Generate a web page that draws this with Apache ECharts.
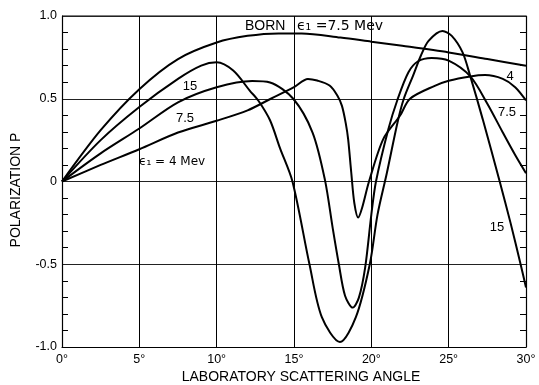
<!DOCTYPE html>
<html><head><meta charset="utf-8">
<script src="https://cdn.jsdelivr.net/npm/echarts@6/dist/echarts.min.js"></script>
<style>html,body{margin:0;padding:0;background:#fff}#c{width:539px;height:385px}</style>
</head><body><div id="c"></div>
<script>
var xTicks = ['0°','5°','10°','15°','20°','25°','30°'];
var born = [[0,0],[2.5,0.31],[5,0.558],[7.5,0.74],[10,0.84],[12,0.88],[14,0.895],[15.5,0.895],[18,0.87],[20,0.845],[22,0.82],[25,0.78],[27.5,0.74],[30,0.70]];
var mev15 = [[0,0],[2.5,0.25],[5,0.45],[7.5,0.62],[9,0.70],[10,0.72],[11.07,0.67],[12.15,0.548],[12.7,0.488],[13.45,0.37],[14.1,0.2],[14.9,0],[16.0,-0.5],[16.8,-0.82],[17.97,-0.97],[19,-0.82],[19.9,-0.5],[20.4,-0.2],[21,0.05],[21.7,0.36],[22.1,0.5],[22.7,0.64],[23.2,0.76],[23.7,0.85],[24.6,0.91],[25.2,0.88],[25.9,0.78],[26.4,0.635],[27.2,0.377],[28.3,0],[29.0,-0.25],[29.65,-0.5],[30,-0.64]];
var mev75 = [[0,0],[2.5,0.17],[5,0.32],[7.5,0.478],[10,0.569],[12.3,0.607],[13.45,0.598],[14.95,0.5],[16.2,0.296],[17.0,0.01],[17.5,-0.28],[17.9,-0.5],[18.3,-0.69],[18.8,-0.762],[19.2,-0.7],[19.6,-0.52],[20.0,-0.2],[20.3,0],[21.1,0.316],[21.7,0.497],[22.4,0.66],[23,0.725],[23.9,0.746],[25,0.73],[26.4,0.635],[27.5,0.47],[28.5,0.296],[29.3,0.16],[30,0.05]];
var mev4 = [[0,0],[2.5,0.1],[5,0.195],[7.5,0.296],[10,0.367],[12,0.43],[13.5,0.5],[15,0.57],[15.9,0.62],[16.5,0.61],[17.3,0.58],[17.8,0.52],[18.1,0.457],[18.35,0.35],[18.5,0.256],[18.7,0.056],[18.9,-0.13],[19.15,-0.218],[19.4,-0.16],[19.85,0],[20.77,0.256],[21.85,0.397],[22.5,0.5],[24.1,0.578],[25,0.609],[26.4,0.635],[27.35,0.643],[28.5,0.62],[29.3,0.57],[30,0.49]];

var FONT = 'Liberation Sans';
var chart = echarts.init(document.getElementById('c'), null, {renderer:'canvas'});
function line(name, data){
  return {name:name, type:'line', data:data, smooth:0.3, symbol:'none',
    lineStyle:{color:'#000', width:2}, yAxisIndex:0};
}
function yax(pos, labels){
  return {type:'value', min:-1, max:1, interval:0.5, position:pos,
    axisLine:{show:true, onZero:false, lineStyle:{color:'#000', width:1.2}},
    axisTick:{show:false, inside:true},
    minorTick:{show:true, splitNumber:5, length:6, lineStyle:{color:'#000', width:1}},
    splitLine:{show:labels, lineStyle:{color:'#222', width:1}},
    axisLabel:{show:labels, color:'#000', fontFamily:FONT, fontSize:12.5, margin:5,
      formatter:function(v){ return v===0 ? '0' : v.toFixed(1); }}
  };
}
chart.setOption({
  animation:false,
  grid:{left:62, right:13, top:16, bottom:38},
  xAxis:{type:'value', min:0, max:30, interval:5,
    axisLine:{onZero:false, lineStyle:{color:'#000', width:1.2}},
    axisTick:{show:false},
    splitLine:{show:true, lineStyle:{color:'#000', width:1}},
    axisLabel:{color:'#000', fontFamily:FONT, fontSize:12.5, margin:6,
      formatter:function(v){ return xTicks[Math.round(v/5)]; }}
  },
  yAxis:[yax('left', true), yax('right', false)],
  series:[line('BORN', born), line('15', mev15), line('7.5', mev75), line('4', mev4)],
  graphic:[
    {type:'rect', shape:{x:62, y:16, width:464, height:0}, style:{stroke:'#000', lineWidth:1.2}},
    {type:'text', x:301, y:377, style:{text:'LABORATORY SCATTERING ANGLE', font:'14px "Liberation Sans"', fill:'#000', align:'center', verticalAlign:'middle'}},
    {type:'text', x:16, y:190, rotation:Math.PI/2, style:{text:'POLARIZATION P', font:'14px "Liberation Sans"', fill:'#000', align:'center', verticalAlign:'middle'}},
    {type:'text', x:245, y:26, style:{text:'BORN', font:'14px "Liberation Sans"', fill:'#000', verticalAlign:'middle'}},
    {type:'text', x:297, y:26, style:{text:'ϵ₁ =7.5 Mev', font:'14px "DejaVu Sans"', fill:'#000', verticalAlign:'middle'}},
    {type:'text', x:190, y:86, style:{text:'15', font:'13px "Liberation Sans"', fill:'#000', align:'center', verticalAlign:'middle'}},
    {type:'text', x:185, y:118, style:{text:'7.5', font:'13px "Liberation Sans"', fill:'#000', align:'center', verticalAlign:'middle'}},
    {type:'text', x:139, y:162, style:{text:'ϵ₁ = 4 Mev', font:'12px "DejaVu Sans"', fill:'#000', verticalAlign:'middle'}},
    {type:'text', x:510, y:76, style:{text:'4', font:'13px "Liberation Sans"', fill:'#000', align:'center', verticalAlign:'middle'}},
    {type:'text', x:507, y:112, style:{text:'7.5', font:'13px "Liberation Sans"', fill:'#000', align:'center', verticalAlign:'middle'}},
    {type:'text', x:497, y:227, style:{text:'15', font:'13px "Liberation Sans"', fill:'#000', align:'center', verticalAlign:'middle'}}
  ]
});
</script></body></html>
